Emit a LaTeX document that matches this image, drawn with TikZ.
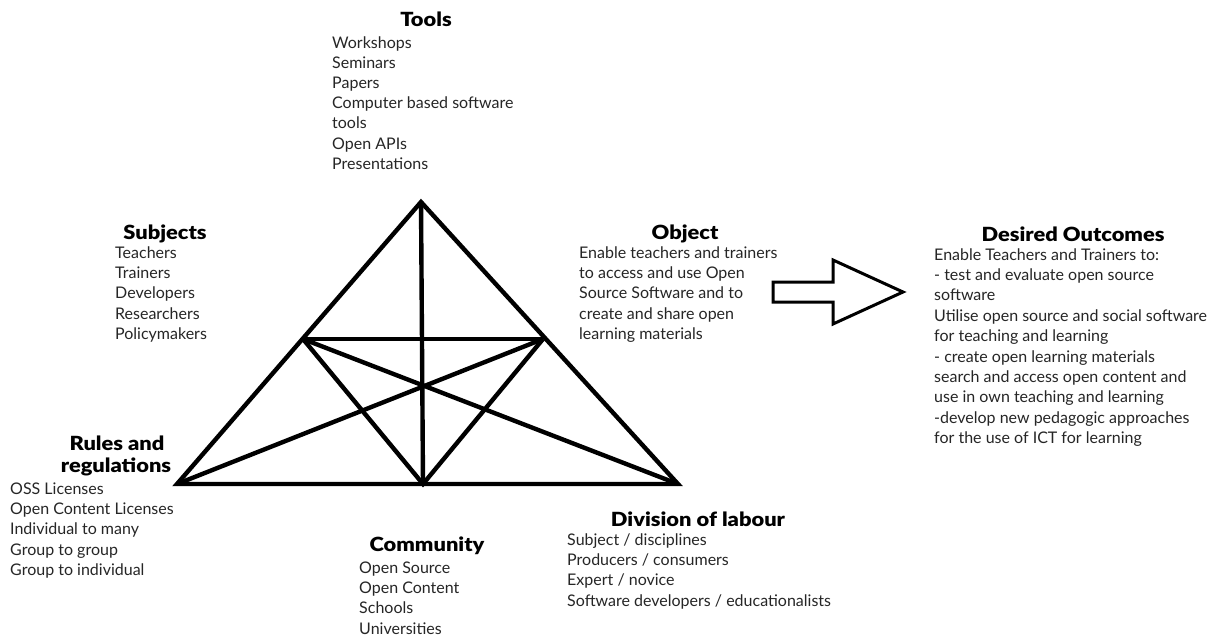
\documentclass[tikz,border=0pt]{standalone}
\usepackage{fontspec}
\setmainfont{Lato}
\newfontfamily\headfont{Lato Black}[FakeStretch=1.12]

\tikzset{
  item/.style={anchor=base west, inner sep=0pt, text=black!85, font=\fontsize{16}{20}\selectfont},
  heading/.style={anchor=base, inner sep=0pt, font=\headfont\fontsize{19.5}{22}\selectfont},
  edge/.style={line width=4.4pt, line join=miter},
}

\begin{document}
\begin{tikzpicture}[x=1pt,y=-1pt]
  \useasboundingbox[fill=white] (0,0) rectangle (1220,637);
  % Triangle corners
  \coordinate (top) at (421,202);
  \coordinate (left) at (177,484);
  \coordinate (right) at (678,484);
  \coordinate (bottom) at (423,484);
  \coordinate (midL) at (303,339);
  \coordinate (midR) at (543,339);
  % Triangle
  \draw[edge] (top) -- (right) -- (left) -- cycle;
  \draw[edge] (top) -- (bottom);
  \draw[edge] (midL) -- (midR);
  \draw[edge] (midL) -- (bottom) -- (midR);
  \draw[edge] (left) -- (midR);
  \draw[edge] (right) -- (midL);
  % Arrow
  \draw[line width=3pt, line join=miter] (773,282) -- (833,282) -- (833,260) -- (903,292)
    -- (833,324) -- (833,302) -- (773,302) -- cycle;
  % Tools
  \node[heading] (tools) at (426,27) {Tools};
  \foreach \txt [count=\i from 0] in {Workshops,Seminars,Papers,Computer based software,tools,Open APIs,Presentations}
    \node[item] (tools\i) at (332,48+20.2*\i) {\txt};
  % Subjects
  \node[heading] (subjects) at (165,239) {Subjects};
  \foreach \txt [count=\i from 0] in {Teachers,Trainers,Developers,Researchers,Policymakers}
    \node[item] (subjects\i) at (115,258+20.4*\i) {\txt};
  % Object
  \node[heading] (object) at (685,239) {Object};
  \foreach \txt [count=\i from 0] in {Enable teachers and trainers,to access and use Open,Source Software and to,create and share open,learning materials}
    \node[item] (object\i) at (579,258+20.4*\i) {\txt};
  % Desired outcomes
  \node[heading] (outcomes) at (1073,241) {Desired Outcomes};
  \foreach \txt [count=\i from 0] in {Enable Teachers and Trainers to:,- test and evaluate open source,software,Utilise open source and social software,for teaching and learning,- create open learning materials,search and access open content and,use in own teaching and learning,-develop new pedagogic approaches,for the use of ICT for learning}
    \node[item] (outcomes\i) at (934,260+20.4*\i) {\txt};
  % Rules and regulations
  \node[heading] (rules) at (117,450) {Rules and};
  \node[heading] (regulations) at (116,472) {regulations};
  \foreach \txt [count=\i from 0] in {OSS Licenses,Open Content Licenses,Individual to many,Group to group,Group to individual}
    \node[item] (rules\i) at (10,494+20.4*\i) {\txt};
  % Community
  \node[heading] (community) at (427,551) {Community};
  \foreach \txt [count=\i from 0] in {Open Source,Open Content,Schools,Universities}
    \node[item] (community\i) at (359,573+20.4*\i) {\txt};
  % Division of labour
  \node[heading] (division) at (698,526) {Division of labour};
  \foreach \txt [count=\i from 0] in {Subject / disciplines,Producers / consumers,Expert / novice,Software developers / educationalists}
    \node[item] (division\i) at (567,545+20.4*\i) {\txt};
\end{tikzpicture}
\end{document}
